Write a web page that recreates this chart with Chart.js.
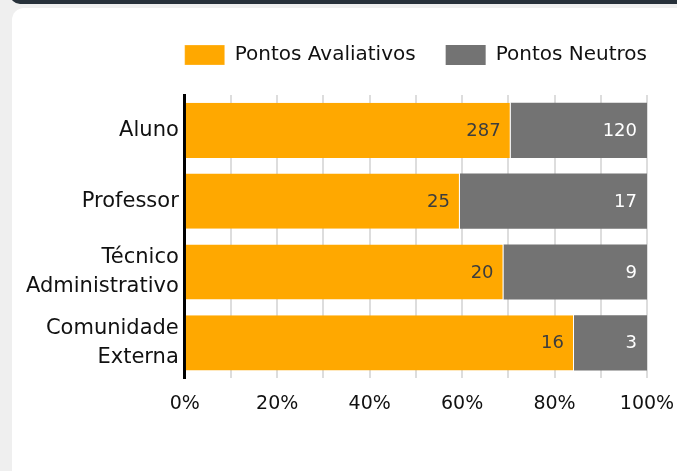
<!DOCTYPE html>
<html>
<head>
<meta charset="utf-8">
<script src="https://cdn.jsdelivr.net/npm/chart.js@4"></script>
<style>
  html, body { margin: 0; padding: 0; }
  body { width: 677px; height: 471px; background: #efefef; position: relative; overflow: hidden; }
  .topbar { position: absolute; left: 10px; top: -20px; width: 720px; height: 24px; background: #27313a; border-radius: 10px; }
  .card { position: absolute; left: 12px; top: 8px; width: 720px; height: 520px; background: #fff; border-radius: 12px; }
  #chart { position: absolute; left: 0; top: 0; }
</style>
</head>
<body>
<div class="topbar"></div>
<div class="card"></div>
<canvas id="chart" width="677" height="471"></canvas>
<script>
const categories = ["Aluno", "Professor", ["Técnico", "Administrativo"], ["Comunidade", "Externa"]];
const avaliativos = [287, 25, 20, 16];
const neutros = [120, 17, 9, 3];
const seriesNames = ["Pontos Avaliativos", "Pontos Neutros"];
const seriesColors = ["#ffa800", "#737373"];
const labelColors = ["#3d3d3d", "#ffffff"];

const FONT = "'DejaVu Sans', sans-serif";

// share of each row in percent, so the bars fill 0-100%
const totals = avaliativos.map((v, i) => v + neutros[i]);
const pctAval = avaliativos.map((v, i) => v / totals[i] * 100);
const pctNeut = neutros.map((v, i) => v / totals[i] * 100);
const rawValues = [avaliativos, neutros];

// count labels drawn at the right end of each segment
const barLabels = {
  id: "barLabels",
  afterDatasetsDraw(chart) {
    const ctx = chart.ctx;
    ctx.save();
    ctx.font = "18px " + FONT;
    ctx.textAlign = "right";
    ctx.textBaseline = "middle";
    chart.data.datasets.forEach((ds, di) => {
      const meta = chart.getDatasetMeta(di);
      meta.data.forEach((bar, i) => {
        ctx.fillStyle = labelColors[di];
        ctx.fillText(rawValues[di][i], bar.x - 10, bar.y + 1);
      });
    });
    ctx.restore();
  }
};

// extra room under the legend
const legendSpacer = {
  id: "legendSpacer",
  beforeInit(chart) {
    const fit = chart.legend.fit;
    chart.legend.fit = function () {
      fit.bind(chart.legend)();
      this.height += 20;
    };
  }
};

new Chart(document.getElementById("chart"), {
  type: "bar",
  data: {
    labels: categories,
    datasets: [
      {
        label: seriesNames[0],
        data: pctAval,
        backgroundColor: seriesColors[0],
        borderColor: "#ffffff",
        borderWidth: { left: 0, right: 1, top: 0, bottom: 0 },
        borderSkipped: false,
      },
      {
        label: seriesNames[1],
        data: pctNeut,
        backgroundColor: seriesColors[1],
        borderWidth: 0,
      },
    ],
  },
  options: {
    indexAxis: "y",
    responsive: false,
    animation: false,
    layout: { padding: { left: 20, right: 0, top: 15, bottom: 42 } },
    datasets: { bar: { barPercentage: 0.78, categoryPercentage: 1 } },
    plugins: {
      legend: {
        position: "top",
        align: "end",
        labels: {
          boxWidth: 40,
          boxHeight: 20,
          padding: 30,
          color: "#111",
          font: { family: FONT, size: 20 },
        },
      },
      tooltip: { enabled: false },
    },
    scales: {
      x: {
        stacked: true,
        min: 0,
        max: 100,
        afterFit(axis) { axis.paddingRight = 30; },
        ticks: {
          stepSize: 10,
          padding: 14,
          color: "#111",
          font: { family: FONT, size: 19 },
          callback: (v) => (v % 20 === 0 ? v + "%" : ""),
          maxRotation: 0,
          autoSkip: false,
        },
        grid: { color: "#dddddd", lineWidth: 2, drawTicks: false },
        border: { display: false },
      },
      y: {
        stacked: true,
        ticks: {
          padding: 6,
          color: "#111",
          font: { family: FONT, size: 21, lineHeight: 1.4 },
        },
        grid: { display: false, drawTicks: false },
        border: { color: "#000", width: 3 },
      },
    },
  },
  plugins: [barLabels, legendSpacer],
});
</script>
</body>
</html>
